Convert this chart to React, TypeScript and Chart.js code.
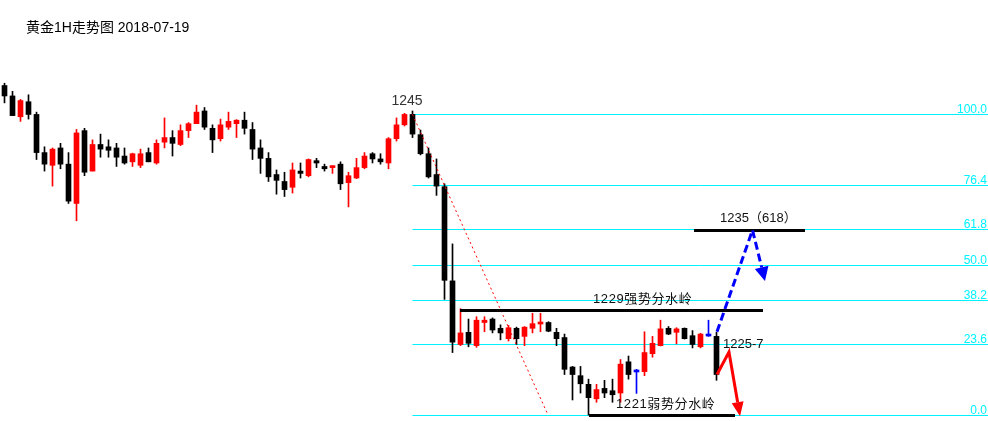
import { useEffect, useRef } from 'react';
import { Chart, registerables } from 'chart.js';

Chart.register(...registerables);

// ---- Data (hourly gold candles, prices in USD) ----
const opens = [
  1247.5, 1246.6, 1244.8, 1246.1, 1245.0, 1241.7, 1240.6, 1242.1, 1240.7, 1237.3,
  1243.6, 1240.1, 1242.4, 1242.2, 1242.1, 1241.4, 1240.9, 1240.6, 1241.7, 1240.8,
  1242.6, 1243.0, 1242.4, 1243.6, 1244.2, 1245.3, 1243.8, 1242.9, 1243.9, 1244.2,
  1244.5, 1243.7, 1242.1, 1241.2, 1239.8, 1239.2, 1238.7, 1240.1, 1239.7, 1241.0,
  1240.5, 1240.4, 1240.7, 1239.1, 1239.5, 1240.4, 1241.6, 1241.15, 1240.8, 1242.9,
  1244.1, 1245.0, 1243.25, 1241.6, 1239.8, 1238.75, 1230.6, 1225.1, 1226.15, 1225.0,
  1227.0, 1227.3, 1226.5, 1225.6, 1226.5, 1225.8, 1226.5, 1226.87, 1227.0, 1226.15,
  1225.7, 1223.15, 1222.4, 1221.65, 1220.4, 1221.3, 1221.1, 1220.9, 1223.6, 1222.72,
  1222.75, 1224.3, 1225.0, 1226.5, 1226.15, 1226.5, 1225.86, 1224.9, 1225.83, 1225.8,
];
const highs = [
  1247.7, 1247.0, 1246.3, 1246.7, 1245.2, 1242.2, 1242.1, 1242.5, 1241.7, 1243.7,
  1243.8, 1242.8, 1243.3, 1242.8, 1242.5, 1242.1, 1241.65, 1242.0, 1242.1, 1242.8,
  1244.7, 1243.6, 1244.1, 1244.3, 1245.8, 1245.6, 1244.1, 1244.6, 1245.2, 1244.55,
  1245.2, 1244.3, 1242.8, 1241.7, 1240.2, 1240.0, 1240.8, 1240.8, 1241.15, 1241.2,
  1240.7, 1240.55, 1240.9, 1240.0, 1241.2, 1241.7, 1241.7, 1241.6, 1243.0, 1244.7,
  1245.1, 1245.3, 1243.65, 1242.1, 1241.15, 1239.0, 1233.8, 1228.2, 1227.3, 1227.5,
  1227.5, 1227.4, 1226.8, 1226.75, 1226.6, 1226.65, 1227.8, 1227.8, 1227.07, 1226.5,
  1226.0, 1223.2, 1223.2, 1222.1, 1221.65, 1222.0, 1222.1, 1223.8, 1224.1, 1222.95,
  1226.2, 1225.8, 1227.2, 1226.65, 1226.55, 1226.53, 1226.3, 1226.07, 1227.2, 1226.15,
];
const lows = [
  1246.0, 1244.9, 1244.4, 1244.6, 1241.1, 1240.1, 1238.8, 1240.3, 1237.3, 1235.8,
  1239.7, 1240.1, 1241.3, 1241.3, 1240.5, 1240.7, 1240.5, 1240.4, 1240.9, 1240.7,
  1242.1, 1241.4, 1242.3, 1243.0, 1244.2, 1243.7, 1241.7, 1242.7, 1243.7, 1243.0,
  1243.3, 1241.1, 1239.9, 1239.2, 1238.1, 1237.9, 1238.2, 1239.5, 1239.6, 1240.4,
  1240.1, 1239.9, 1238.5, 1237.0, 1239.45, 1240.3, 1240.8, 1240.7, 1240.3, 1242.7,
  1244.0, 1243.0, 1241.5, 1239.5, 1238.0, 1229.0, 1224.4, 1225.0, 1224.9, 1224.85,
  1226.2, 1226.1, 1225.5, 1225.4, 1225.1, 1225.0, 1226.1, 1226.2, 1226.2, 1225.0,
  1222.5, 1220.3, 1220.9, 1219.0, 1220.1, 1220.5, 1220.1, 1220.1, 1222.1, 1220.87,
  1222.4, 1224.0, 1224.97, 1225.95, 1225.15, 1225.57, 1224.8, 1224.8, 1225.8, 1222.0,
];
const closes = [
  1246.6, 1244.9, 1246.2, 1245.0, 1241.7, 1240.7, 1242.0, 1240.7, 1237.5, 1243.4,
  1240.0, 1242.4, 1242.0, 1241.9, 1241.3, 1240.8, 1241.6, 1241.6, 1240.9, 1242.5,
  1243.0, 1242.5, 1243.6, 1244.2, 1245.2, 1243.9, 1242.8, 1244.1, 1244.4, 1244.5,
  1243.8, 1242.0, 1241.2, 1239.6, 1239.3, 1238.5, 1240.2, 1239.9, 1241.1, 1240.8,
  1240.3, 1240.5, 1239.0, 1239.7, 1240.4, 1241.4, 1241.15, 1240.9, 1242.9, 1244.1,
  1245.0, 1243.3, 1241.6, 1239.6, 1238.8, 1230.65, 1225.3, 1226.1, 1225.2, 1227.2,
  1227.2, 1226.35, 1226.1, 1226.55, 1225.6, 1226.6, 1226.9, 1226.96, 1226.25, 1225.6,
  1222.95, 1222.5, 1221.7, 1220.5, 1221.2, 1220.9, 1220.75, 1223.4, 1222.5, 1222.72,
  1224.4, 1225.2, 1226.45, 1226.0, 1226.45, 1225.6, 1225.1, 1226.0, 1225.83, 1222.5,
];

// Fibonacci retracement
const fibHigh = 1245;
const fibLow = 1219;
const fibStartIndex = 51;
const fibLevels = [100.0, 76.4, 61.8, 50.0, 38.2, 23.6, 0.0];

// Annotation lines [x1, x2, price]
const resistance1229 = [56.94, 94.81, 1228.1];
const support1221 = [73.06, 91.31, 1219.0];
const target1235 = [86.19, 100.06, 1235.0];
// Dotted trend line [[x, price], [x, price]]
const trendLine = [[51, 1245.0], [67.94, 1219.0]];
// Arrow paths [[x, price], ...]
const blueArrow = [[89.06, 1226.2], [93.5, 1235.0], [95.06, 1230.6]];
const redArrow = [[89.06, 1222.5], [90.56, 1224.45], [91.94, 1218.9]];
// Text labels
const labelTexts = ['1245', '1229强势分水岭', '1221弱势分水岭', '1235（618）', '1225-7'];
const labelX = [50.31, 73.56, 76.44, 89.44, 89.81];
const labelY = [1246.16, 1229.03, 1219.95, 1236.04, 1225.14];
const labelAlign = ['center', 'left', 'left', 'left', 'left'];

const TITLE = '黄金1H走势图 2018-07-19';

const FIB_COLOR = '#00F2FF';
const FONT = '"Liberation Sans", "Noto Sans CJK SC", sans-serif';

function candleColor(i: number) {
  if (closes[i] > opens[i]) return '#FF0000';
  if (closes[i] < opens[i]) return '#000000';
  return '#0000FF';
}

function drawArrow(ctx: CanvasRenderingContext2D, pts: number[][], color: string, dash: number[], headLen: number, headHalf: number) {
  const n = pts.length;
  const [tx, ty] = pts[n - 1];
  const [px, py] = pts[n - 2];
  const ang = Math.atan2(ty - py, tx - px);
  const bx = tx - Math.cos(ang) * headLen;
  const by = ty - Math.sin(ang) * headLen;
  ctx.save();
  ctx.strokeStyle = color;
  ctx.fillStyle = color;
  ctx.lineWidth = 3;
  ctx.setLineDash(dash);
  ctx.beginPath();
  ctx.moveTo(pts[0][0], pts[0][1]);
  for (let i = 1; i < n - 1; i++) ctx.lineTo(pts[i][0], pts[i][1]);
  ctx.lineTo(bx, by);
  ctx.stroke();
  ctx.setLineDash([]);
  ctx.beginPath();
  ctx.moveTo(tx, ty);
  ctx.lineTo(bx + Math.sin(ang) * headHalf, by - Math.cos(ang) * headHalf);
  ctx.lineTo(bx - Math.sin(ang) * headHalf, by + Math.cos(ang) * headHalf);
  ctx.closePath();
  ctx.fill();
  ctx.restore();
}

const overlayPlugin = {
  id: 'fibOverlay',
  beforeDatasetsDraw(chart: any) {
    const { ctx, chartArea } = chart;
    const xs = chart.scales.x;
    const ys = chart.scales.y;
    ctx.save();
    const x0 = xs.getPixelForValue(fibStartIndex);
    ctx.lineWidth = 1;
    ctx.strokeStyle = FIB_COLOR;
    ctx.fillStyle = FIB_COLOR;
    ctx.font = '12px ' + FONT;
    ctx.textAlign = 'right';
    ctx.textBaseline = 'alphabetic';
    fibLevels.forEach((l) => {
      const price = fibLow + ((fibHigh - fibLow) * l) / 100;
      const py = Math.round(ys.getPixelForValue(price)) + 0.5;
      ctx.beginPath();
      ctx.moveTo(x0, py);
      ctx.lineTo(chartArea.right, py);
      ctx.stroke();
      ctx.fillText(l.toFixed(1), chartArea.right - 1, py - 2);
    });
    ctx.restore();
  },
  afterDatasetsDraw(chart: any) {
    const { ctx } = chart;
    const xs = chart.scales.x;
    const ys = chart.scales.y;
    const P = (p: number[]) => [xs.getPixelForValue(p[0]), ys.getPixelForValue(p[1])];
    ctx.save();
    // dotted red trend line
    const a = P(trendLine[0]);
    const b = P(trendLine[1]);
    ctx.strokeStyle = '#FF0000';
    ctx.lineWidth = 1;
    ctx.setLineDash([2, 3]);
    ctx.beginPath();
    ctx.moveTo(a[0], a[1]);
    ctx.lineTo(b[0], b[1]);
    ctx.stroke();
    ctx.setLineDash([]);
    // black level lines
    ctx.strokeStyle = '#000000';
    ctx.lineWidth = 3;
    [resistance1229, support1221, target1235].forEach((l) => {
      const y = Math.round(ys.getPixelForValue(l[2])) + 0.5;
      ctx.beginPath();
      ctx.moveTo(xs.getPixelForValue(l[0]), y);
      ctx.lineTo(xs.getPixelForValue(l[1]), y);
      ctx.stroke();
    });
    ctx.restore();
    drawArrow(ctx, blueArrow.map(P), '#0000FF', [8, 4], 14, 7);
    drawArrow(ctx, redArrow.map(P), '#FF0000', [], 14, 6);
    // labels
    ctx.save();
    ctx.textBaseline = 'middle';
    labelTexts.forEach((t, i) => {
      ctx.font = (i === 0 ? '14px ' : '13px ') + FONT;
      ctx.fillStyle = i === 0 ? '#333333' : '#111111';
      ctx.textAlign = labelAlign[i] as CanvasTextAlign;
      if (i === 1 || i === 2) (ctx as any).letterSpacing = '0.6px';
      else (ctx as any).letterSpacing = '0px';
      ctx.fillText(t, xs.getPixelForValue(labelX[i]), ys.getPixelForValue(labelY[i]));
    });
    ctx.restore();
  },
};

export default function App() {
  const canvasRef = useRef<HTMLCanvasElement>(null);

  useEffect(() => {
    if (!canvasRef.current) return;
    const idx = opens.map((_, i) => i);
    const colors = idx.map(candleColor);
    const chart = new Chart(canvasRef.current, {
      type: 'bar',
      data: {
        datasets: [
          {
            label: 'body',
            data: idx.map((i) => ({ x: i, y: [opens[i], closes[i]] })) as any,
            backgroundColor: colors,
            barThickness: 5,
            minBarLength: 2,
            grouped: false,
            borderWidth: 0,
            order: 0,
          },
          {
            label: 'wick',
            data: idx.map((i) => ({ x: i, y: [lows[i], highs[i]] })) as any,
            backgroundColor: colors,
            barThickness: 1,
            minBarLength: 1,
            grouped: false,
            borderWidth: 0,
            order: 1,
          },
        ],
      },
      options: {
        animation: false,
        responsive: true,
        maintainAspectRatio: false,
        events: [],
        layout: { padding: 0 },
        plugins: { legend: { display: false }, tooltip: { enabled: false }, title: { display: false } },
        scales: {
          x: { type: 'linear', min: -0.5625, max: 122.9375, offset: false, display: false },
          y: { type: 'linear', min: 1218.48, max: 1254.9, display: false },
        },
      },
      plugins: [overlayPlugin],
    });
    return () => chart.destroy();
  }, []);

  return (
    <div style={{ position: 'fixed', left: 0, top: 0, width: 988, height: 421, background: '#fff' }}>
      <canvas ref={canvasRef} />
      <div
        style={{
          position: 'absolute',
          left: 26,
          top: 19,
          fontFamily: FONT,
          fontSize: 14,
          lineHeight: '17px',
          color: '#000',
          whiteSpace: 'nowrap',
        }}
      >
        {TITLE}
      </div>
    </div>
  );
}
